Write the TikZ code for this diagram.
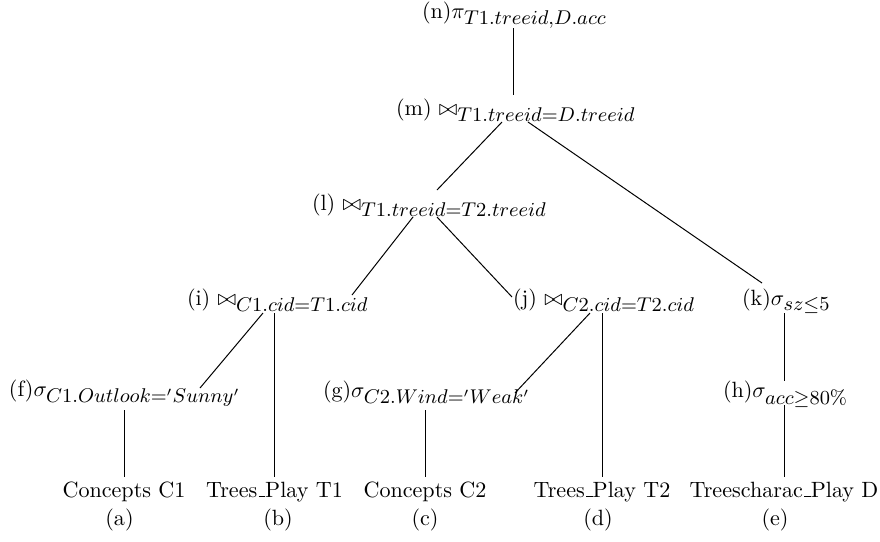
\documentclass[tikz,border=0pt]{standalone}
\DeclareMathSizes{10}{10}{8.7}{6.5}
\newcommand{\myus}{\kern.06em\vbox{\hrule width.3em}}
\begin{document}
\begin{tikzpicture}[x=0.4525pt,y=-0.4525pt,
  lbl/.style={anchor=base west, inner sep=0pt, outer sep=0pt},
  leaf/.style={anchor=base, inner sep=0pt, outer sep=0pt},
  edge/.style={line width=0.45pt}]
\useasboundingbox (0,0) rectangle (880,541);
% operator nodes
\node[lbl] (n) at (422,18) {(n)$\pi_{T1.treeid,D.acc}$};
\node[lbl] (m) at (396,115) {(m) $\bowtie_{T1.treeid=D.treeid}$};
\node[lbl] (l) at (312,210) {(l) $\bowtie_{T1.treeid=T2.treeid}$};
\node[lbl] (i) at (187,305) {(i) $\bowtie_{C1.cid=T1.cid}$};
\node[lbl] (j) at (513,305) {(j) $\bowtie_{C2.cid=T2.cid}$};
\node[lbl] (k) at (742,305) {(k)$\sigma_{sz\leq 5}$};
\node[lbl] (f) at (9,396) {(f)$\sigma_{C1.Outlook='Sunny'}$};
\node[lbl] (g) at (323,397) {(g)$\sigma_{C2.Wind='Weak'}$};
\node[lbl] (h) at (723,397) {(h)$\sigma_{acc\geq 80\%}$};
% leaves
\node[leaf] (a) at (124,497) {Concepts C1};
\node[leaf] (b) at (274.5,497) {Trees\myus Play T1};
\node[leaf] (c) at (425,497) {Concepts C2};
\node[leaf] (d) at (602,497) {Trees\myus Play T2};
\node[leaf] (e) at (784,497) {Treescharac\myus Play D};
% leaf labels
\node[leaf] (la) at (119.5,525) {(a)};
\node[leaf] (lb) at (278,525) {(b)};
\node[leaf] (lc) at (425,525) {(c)};
\node[leaf] (ld) at (598,525) {(d)};
\node[leaf] (le) at (775,525) {(e)};
% connectors
\draw[edge] ([shift={(91,10)}]n.base west) -- ([shift={(117,-20)}]m.base west);
\draw[edge] ([shift={(106,7)}]m.base west) -- ([shift={(125,-20)}]l.base west);
\draw[edge] ([shift={(132,7)}]m.base west) -- ([shift={(20,-22)}]k.base west);
\draw[edge] ([shift={(101,7)}]l.base west) -- ([shift={(165,-10)}]i.base west);
\draw[edge] ([shift={(125,7)}]l.base west) -- ([shift={(-1,-8)}]j.base west);
\draw[edge] ([shift={(76,8)}]i.base west) -- ([shift={(191,-8)}]f.base west);
\draw[edge] ([shift={(87.5,8)}]i.base west) -- ([shift={(0,-20)}]b.base);
\draw[edge] ([shift={(77,8)}]j.base west) -- ([shift={(192,-4)}]g.base west);
\draw[edge] ([shift={(89,8)}]j.base west) -- ([shift={(0,-20)}]d.base);
\draw[edge] ([shift={(42,8)}]k.base west) -- ([shift={(61,-16)}]h.base west);
\draw[edge] ([shift={(115,14)}]f.base west) -- ([shift={(0,-20)}]a.base);
\draw[edge] ([shift={(102,13)}]g.base west) -- ([shift={(0,-20)}]c.base);
\draw[edge] ([shift={(61,8)}]h.base west) -- ([shift={(0,-20)}]e.base);
\end{tikzpicture}
\end{document}
